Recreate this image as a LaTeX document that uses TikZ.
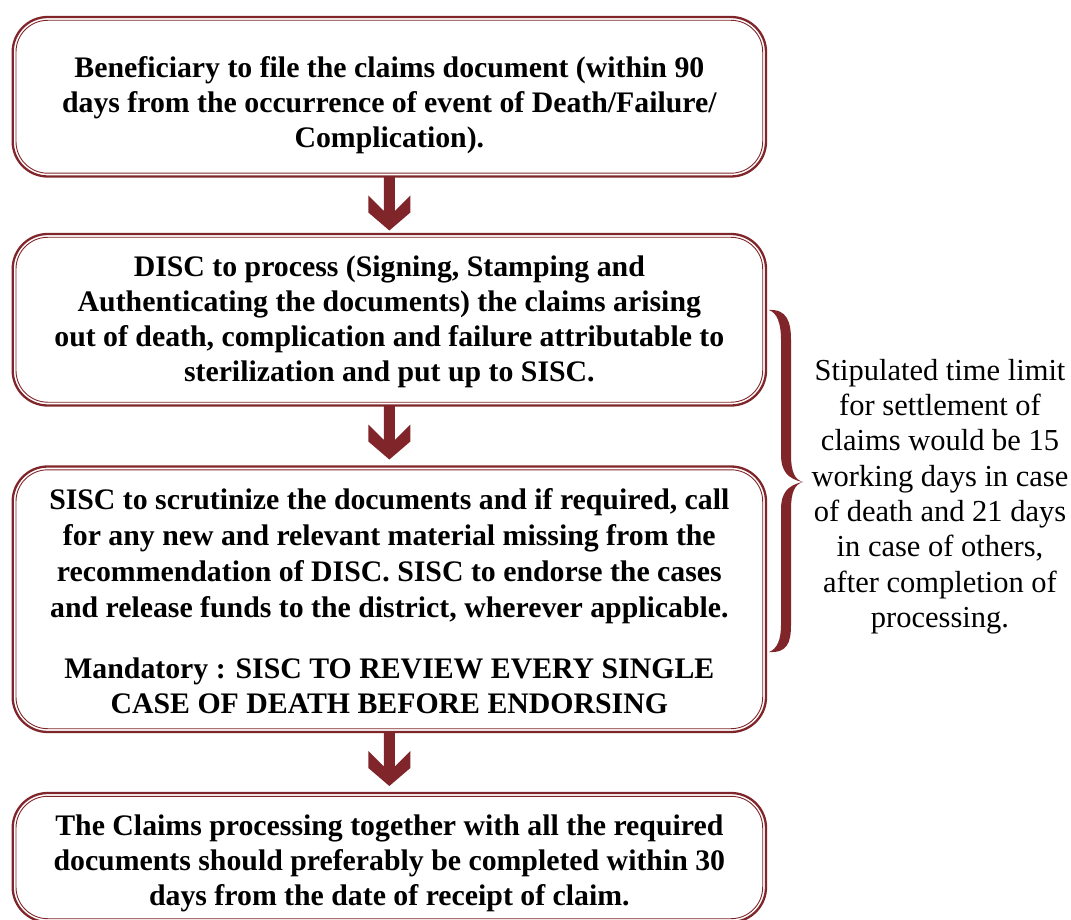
\documentclass[tikz,border=0pt]{standalone}
\usepackage{fontspec}
\setmainfont{Liberation Serif}
\usetikzlibrary{calc}
\definecolor{brick}{RGB}{128,38,42}
\begin{document}
\begin{tikzpicture}[x=1pt,y=-1pt,
  box/.style={draw=brick, line width=2.3pt, rounded corners=35pt, inner sep=0pt, outer sep=0pt, minimum width=753.3pt},
  inner/.style={draw=brick, line width=0.9pt, rounded corners=31.7pt},
  btxt/.style={font=\fontsize{29.8}{35}\selectfont\bfseries, align=center, inner sep=0pt},
  rtxt/.style={font=\fontsize{30.5}{35.3}\selectfont, align=center, inner sep=0pt},
  arrowfill/.style={fill=brick, draw=none}]
\useasboundingbox (0,0) rectangle (1071,920);
% boxes
\node[box, minimum height=159.5pt] (b1) at (389.35,96.75) {};
\node[box, minimum height=171.5pt] (b2) at (389.35,319.75) {};
\node[box, minimum height=265.5pt] (b3) at (389.35,599.25) {};
\node[box, minimum height=129pt] (b4) at (389.35,857.5) {};
\foreach \b in {b1,b2,b3,b4}{
  \draw[inner] ($(\b.north west)+(3.3,3.3)$) rectangle ($(\b.south east)+(-3.3,-3.3)$);
}
% texts
\node[btxt] (t1) at (389.35,105) {Beneficiary to file the claims document (within 90\\days from the occurrence of event of Death/Failure/\\Complication).};
\node[btxt] (t2) at (389.35,322) {DISC to process (Signing, Stamping and\\Authenticating the documents) the claims arising\\out of death, complication and failure attributable to\\sterilization and put up to SISC.};
\node[btxt, font=\fontsize{29.8}{36.2}\selectfont\bfseries] (t3) at (389.35,556) {SISC to scrutinize the documents and if required, call\\for any new and relevant material missing from the\\recommendation of DISC. SISC to endorse the cases\\and release funds to the district, wherever applicable.};
\node[btxt] (t3b) at (389.35,686) {Mandatory : SISC TO REVIEW EVERY SINGLE\\CASE OF DEATH BEFORE ENDORSING};
\node[btxt] (t4) at (389.35,863.5) {The Claims processing together with all the required\\documents should preferably be completed within 30\\days from the date of receipt of claim.};
\node[rtxt] (side) at (940,496.5) {Stipulated time limit\\for settlement of\\claims would be 15\\working days in case\\of death and 21 days\\in case of others,\\after completion of\\processing.};
% arrows
\foreach \a/\c in {b1/e1,b2/e2,b3/e3}{
  \coordinate (\c) at ($(\a.south)+(0,54)$);
  \fill[arrowfill] ($(\a.south)+(-5.5,0)$) -- ($(\a.south)+(5.5,0)$)
    -- ($(\c)+(5.5,-19.5)$) -- ($(\c)+(21,-35)$) -- ($(\c)+(21,-18)$)
    -- (\c) -- ($(\c)+(-21,-18)$) -- ($(\c)+(-21,-35)$) -- ($(\c)+(-5.5,-19.5)$) -- cycle;
}
% brace
\coordinate (btop) at (769,310);
\coordinate (btip) at (803,482);
\coordinate (bbot) at (769,652);
\fill[brick] (btop) .. controls (787,309) and (791,322) .. (791,340) -- (791,455)
  .. controls (791,472) and (795,480) .. (btip)
  .. controls (795,484) and (791,492) .. (791,509) -- (791,625)
  .. controls (791,643) and (787,653) .. (bbot)
  .. controls (777,649) and (781,640) .. (781,625) -- (781,509)
  .. controls (781,494) and (787,485) .. (btip)
  .. controls (787,479) and (781,470) .. (781,455) -- (781,340)
  .. controls (781,323) and (777,313) .. (btop) -- cycle;
\end{tikzpicture}
\end{document}
